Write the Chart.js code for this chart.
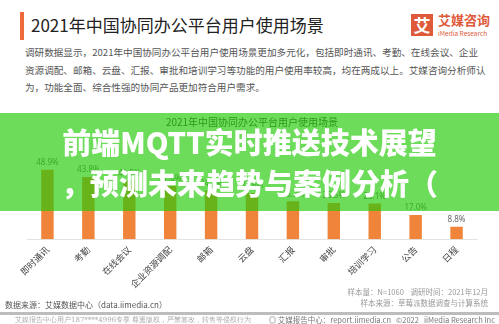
<!DOCTYPE html>
<html>
<head>
<meta charset="utf-8">
<script src="https://cdn.jsdelivr.net/npm/chart.js@4"></script>
<style>
  html, body { margin: 0; padding: 0; background: #fff; }
  body { width: 499px; height: 324px; position: relative; overflow: hidden;
         font-family: "Noto Sans CJK SC", "Noto Sans", sans-serif; }
  .abs { position: absolute; white-space: nowrap; }
  #mark { left: 20px; top: 12px; width: 4px; height: 28px; background: #ee6a3a; }
  #title { left: 31px; top: 14px; font-size: 17px; line-height: 22px; color: #222; }
  #logoBox { left: 411px; top: 14px; width: 22px; height: 22px; background: #de5a3b;
             color: #fff; font-size: 17px; font-weight: 700; line-height: 22px; text-align: center; }
  #logoCn { left: 438px; top: 12px; font-size: 13px; line-height: 16px; font-weight: 700; color: #de5a3b; }
  #logoEn { left: 438px; top: 29px; font-size: 6.5px; line-height: 8px; color: #de5a3b; }
  #intro { left: 25px; top: 44px; font-size: 9.6px; line-height: 17.5px; color: #555; }
  #chartBox { left: 0; top: 115px; width: 499px; height: 180px; }
  #banner { left: 0; top: 113px; width: 499px; height: 98px; background: rgba(37, 203, 9, 0.67); z-index: 5; }
  .bannerText { left: 0; width: 499px; text-align: center; color: #fff; font-weight: 900;
                font-size: 29px; line-height: 32px; z-index: 6; }
  #b1 { top: 125px; }
  #b2 { top: 166px; }
  #note { right: 11px; top: 286px; font-size: 7.5px; line-height: 11px; color: #999; text-align: right; }
  #source { left: 5px; top: 299px; font-size: 8px; line-height: 12px; color: #555; }
  #rule { left: 0; top: 312px; width: 499px; height: 3px; background: #bdbdbd; }
  #copyL { left: 15px; top: 315px; font-size: 7px; line-height: 10px; color: #aaa; font-family: "DejaVu Serif", serif; }
  #copyR { right: 4px; top: 315px; font-size: 7.5px; line-height: 10px; color: #777; }
</style>
</head>
<body>
<div class="abs" id="mark"></div>
<div class="abs" id="title">2021年中国协同办公平台用户使用场景</div>
<div class="abs" id="logoBox">艾</div>
<div class="abs" id="logoCn">艾媒咨询</div>
<div class="abs" id="logoEn">iMedia Research</div>
<div class="abs" id="intro">调研数据显示，2021年中国协同办公平台用户使用场景更加多元化，包括即时通讯、考勤、在线会议、企业<br>资源调配、邮箱、云盘、汇报、审批和培训学习等功能的用户使用率较高，均在两成以上。艾媒咨询分析师认<br>为，功能全面、综合性强的协同产品更加符合用户需求。</div>

<div class="abs" id="chartBox"><canvas id="grafico"></canvas></div>

<div class="abs" id="banner"></div>
<div class="abs bannerText" id="b1">前端MQTT实时推送技术展望</div>
<div class="abs bannerText" id="b2">，预测未来趋势与案例分析（</div>

<div class="abs" id="note">样本量：N=1060&nbsp;&nbsp;&nbsp;&nbsp;调研时间：2021年12月<br>样本来源：草莓派数据调查与计算系统</div>
<div class="abs" id="source">数据来源：艾媒数据中心（data.iimedia.cn）</div>
<div class="abs" id="rule"></div>
<div class="abs" id="copyL">艾媒报告中心用户187****4996专享 尊重版权，严禁篡改，转售等侵权行为</div>
<div class="abs" id="copyR">◎ 艾媒报告中心：report.iimedia.cn&nbsp;&nbsp;&nbsp;©2022&nbsp;&nbsp;&nbsp;iiMedia Research Inc</div>

<script>
// Dados do gráfico
const categorias = ['即时通讯', '考勤', '在线会议', '企业资源调配', '邮箱', '云盘', '汇报', '审批', '培训学习', '公告', '日程'];
const valores = [48.9, 43.8, 41.5, 37.6, 34.3, 32.6, 26.7, 25.5, 25.1, 17.0, 8.8];
const tituloGrafico = '2021年中国协同办公平台用户使用场景';

// Rótulos de valor acima das barras
const rotulosValor = {
    id: 'rotulosValor',
    afterDatasetsDraw(chart) {
        const ctx = chart.ctx;
        const meta = chart.getDatasetMeta(0);
        ctx.save();
        ctx.font = '8px "Noto Sans", sans-serif';
        ctx.fillStyle = '#666';
        ctx.textAlign = 'center';
        ctx.textBaseline = 'bottom';
        meta.data.forEach((barra, i) => {
            ctx.fillText(valores[i].toFixed(1) + '%', barra.x, barra.y - 3);
        });
        ctx.restore();
    }
};

const ctx = document.getElementById('grafico').getContext('2d');
new Chart(ctx, {
    type: 'bar',
    data: {
        labels: categorias,
        datasets: [{
            data: valores,
            backgroundColor: '#f0843a',
            categoryPercentage: 0.8,
            barPercentage: 0.38
        }]
    },
    options: {
        responsive: true,
        maintainAspectRatio: false,
        animation: false,
        layout: { padding: { left: 27, right: 22, top: 0, bottom: 0 } },
        plugins: {
            legend: { display: false },
            tooltip: { enabled: false },
            title: {
                display: true,
                text: tituloGrafico,
                color: '#333',
                font: { size: 10, family: '"Noto Sans CJK SC", sans-serif', weight: 'normal' },
                padding: { top: 1, bottom: 26 }
            }
        },
        scales: {
            x: {
                grid: { display: false, drawTicks: false },
                border: { display: true, color: '#e3e3e3', width: 1 },
                ticks: {
                    color: '#444',
                    maxRotation: 45,
                    minRotation: 45,
                    padding: 5,
                    font: { size: 9, family: '"Noto Sans CJK SC", sans-serif' }
                }
            },
            y: {
                display: false,
                min: 0,
                max: 60
            }
        }
    },
    plugins: [rotulosValor]
});
</script>
</body>
</html>
